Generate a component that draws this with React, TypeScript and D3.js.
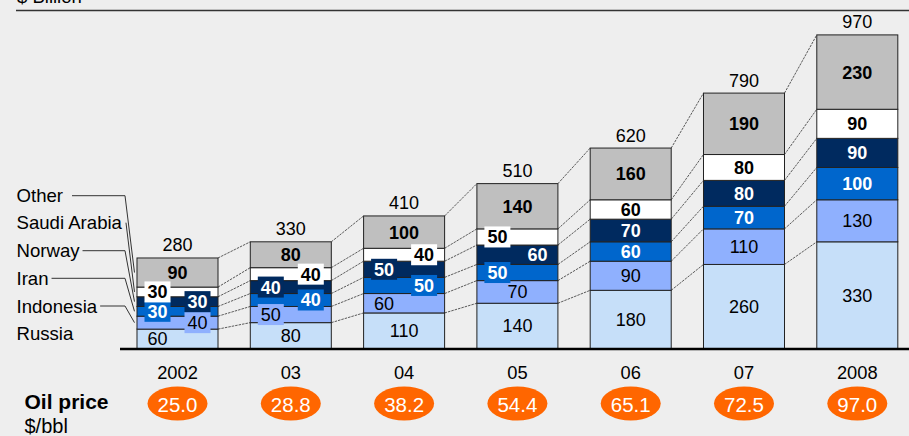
import React from "react";
import * as d3 from "d3";

// Oil production value by country, $ Billion
const years = ["2002", "03", "04", "05", "06", "07", "2008"];
const russia = [60, 80, 110, 140, 180, 260, 330];
const indonesia = [40, 50, 60, 70, 90, 110, 130];
const iran = [30, 40, 50, 50, 60, 70, 100];
const norway = [30, 40, 50, 60, 70, 80, 90];
const saudiArabia = [30, 40, 40, 50, 60, 80, 90];
const other = [90, 80, 100, 140, 160, 190, 230];
const totals = [280, 330, 410, 510, 620, 790, 970];
const oilPrices = ["25.0", "28.8", "38.2", "54.4", "65.1", "72.5", "97.0"];

const seriesNames = ["Russia", "Indonesia", "Iran", "Norway", "Saudi Arabia", "Other"];
const seriesValues = [russia, indonesia, iran, norway, saudiArabia, other];

// Layout of the in-bar value labels: centred, or nudged left/right in thin segments
const labelSide: Record<string, string[]> = {
  Russia: ["L", "C", "C", "C", "C", "C", "C"],
  Indonesia: ["R", "L", "L", "C", "C", "C", "C"],
  Iran: ["L", "R", "R", "L", "C", "C", "C"],
  Norway: ["R", "L", "L", "R", "C", "C", "C"],
  "Saudi Arabia": ["L", "R", "R", "L", "C", "C", "C"],
  Other: ["C", "C", "C", "C", "C", "C", "C"],
};

const fills: Record<string, string> = {
  Russia: "#c6dff9",
  Indonesia: "#8fb0fe",
  Iran: "#0066cc",
  Norway: "#002a5f",
  "Saudi Arabia": "#ffffff",
  Other: "#bfbfbf",
};
const textStyle: Record<string, { fill: string; weight: string }> = {
  Russia: { fill: "#000", weight: "normal" },
  Indonesia: { fill: "#000", weight: "normal" },
  Iran: { fill: "#fff", weight: "bold" },
  Norway: { fill: "#fff", weight: "bold" },
  "Saudi Arabia": { fill: "#000", weight: "bold" },
  Other: { fill: "#000", weight: "bold" },
};

const W = 909;
const H = 436;
const FONT = "'Liberation Sans', Arial, sans-serif";
const LEGEND_SIZE = 18.6;

function textWidth(s: string, size: number): number {
  const c = document.createElement("canvas").getContext("2d");
  if (!c) return s.length * size * 0.55;
  c.font = `${size}px 'Liberation Sans', Arial, sans-serif`;
  return c.measureText(s).width;
}

export default function App() {
  const rows = years.map((year, i) => {
    const r: Record<string, number | string> = { year };
    seriesNames.forEach((n, k) => (r[n] = seriesValues[k][i]));
    return r;
  });
  const stacked = d3.stack<any>().keys(seriesNames)(rows as any);

  const x = d3
    .scaleBand<string>()
    .domain(years)
    .range([120.85, 913.95])
    .paddingInner(0.285)
    .paddingOuter(0.1425);
  const y = d3.scaleLinear().domain([0, 1000]).range([348.5, 25.2]);
  const bw = x.bandwidth();

  const legendCenters = [333.3, 306, 278.3, 250.7, 222.7, 195.7];

  return (
    <div style={{ position: "fixed", left: 0, top: 0 }}>
      <svg width={W} height={H} style={{ display: "block", fontFamily: FONT }}>
        <rect x={0} y={0} width={W} height={H} fill="#eeeeee" />

        {/* unit caption and top rule */}
        <text x={17} y={2.5} fontSize={18.5} fill="#000">
          $ Billion
        </text>
        <line x1={16} x2={W} y1={10.5} y2={10.5} stroke="#333" strokeWidth={1.3} />

        {/* stacked segments */}
        {stacked.map((layer) => (
          <g key={layer.key}>
            {layer.map((d, i) => (
              <rect
                key={i}
                x={x(years[i])}
                y={y(d[1])}
                width={bw}
                height={y(d[0]) - y(d[1])}
                fill={fills[layer.key]}
                stroke="#222"
                strokeWidth={1}
              />
            ))}
          </g>
        ))}

        {/* connectors between neighbouring bars */}
        {stacked.map((layer) => (
          <g key={"c" + layer.key}>
            {layer.slice(0, -1).map((d, i) => (
              <line
                key={i}
                x1={(x(years[i]) as number) + bw}
                y1={y(d[1])}
                x2={x(years[i + 1]) as number}
                y2={y(layer[i + 1][1])}
                stroke="#333"
                strokeWidth={0.8}
                strokeDasharray="2.5,1"
              />
            ))}
          </g>
        ))}

        {/* value labels inside the segments */}
        {stacked.map((layer) => (
          <g key={"l" + layer.key}>
            {layer.map((d, i) => {
              const side = labelSide[layer.key][i];
              const cx = (x(years[i]) as number) + bw / 2 + (side === "L" ? -20 : side === "R" ? 20 : 0);
              const cy = (y(d[0]) + y(d[1])) / 2;
              const segH = y(d[0]) - y(d[1]);
              const v = d[1] - d[0];
              const st = textStyle[layer.key];
              const boxW = String(v).length > 2 ? 36 : 26;
              return (
                <g key={i}>
                  {side !== "C" && segH < 18 && (
                    <rect x={cx - boxW / 2} y={cy - 10.5} width={boxW} height={21} fill={fills[layer.key]} />
                  )}
                  <text
                    x={cx}
                    y={cy}
                    dy="0.36em"
                    textAnchor="middle"
                    fontSize={18}
                    fontWeight={st.weight}
                    fill={st.fill}
                  >
                    {v}
                  </text>
                </g>
              );
            })}
          </g>
        ))}

        {/* totals above the bars */}
        {totals.map((t, i) => (
          <text
            key={"t" + i}
            x={(x(years[i]) as number) + bw / 2}
            y={y(t) - 6.5}
            textAnchor="middle"
            fontSize={18}
            fill="#000"
          >
            {t}
          </text>
        ))}

        {/* baseline */}
        <line x1={120} x2={W} y1={y(0) + 0.5} y2={y(0) + 0.5} stroke="#000" strokeWidth={2.5} />

        {/* series legend with leader lines to the first bar */}
        {seriesNames.map((n, k) => {
          const cy = legendCenters[k];
          const seg = stacked[k][0];
          const tw = textWidth(n, LEGEND_SIZE);
          const sx = 16.5 + tw + (n === "Other" ? 9 : 3);
          const ex = (x(years[0]) as number) - 2.5;
          const ey = (y(seg[0]) + y(seg[1])) / 2;
          return (
            <g key={"lg" + n}>
              <text x={16.5} y={cy} dy="0.36em" fontSize={LEGEND_SIZE} fill="#000">
                {n}
              </text>
              {n !== "Russia" && (
                <polyline
                  points={`${sx},${cy} ${Math.max(sx, 125)},${cy} ${ex},${ey}`}
                  fill="none"
                  stroke="#333"
                  strokeWidth={1}
                />
              )}
            </g>
          );
        })}

        {/* year labels */}
        {years.map((yr) => (
          <text
            key={"y" + yr}
            x={(x(yr) as number) + bw / 2}
            y={378.5}
            textAnchor="middle"
            fontSize={18.3}
            fill="#000"
          >
            {yr}
          </text>
        ))}

        {/* oil price row */}
        <text x={24.5} y={409} fontSize={21} fontWeight="bold" fill="#000">
          Oil price
        </text>
        <text x={24.5} y={432.5} fontSize={20} fill="#000">
          $/bbl
        </text>
        {oilPrices.map((p, i) => {
          const cx = (x(years[i]) as number) + bw / 2;
          return (
            <g key={"p" + i}>
              <ellipse cx={cx} cy={403.5} rx={30} ry={17} fill="#ff6600" />
              <text x={cx} y={411.5} textAnchor="middle" fontSize={20.5} fill="#fff">
                {p}
              </text>
            </g>
          );
        })}
      </svg>
    </div>
  );
}
